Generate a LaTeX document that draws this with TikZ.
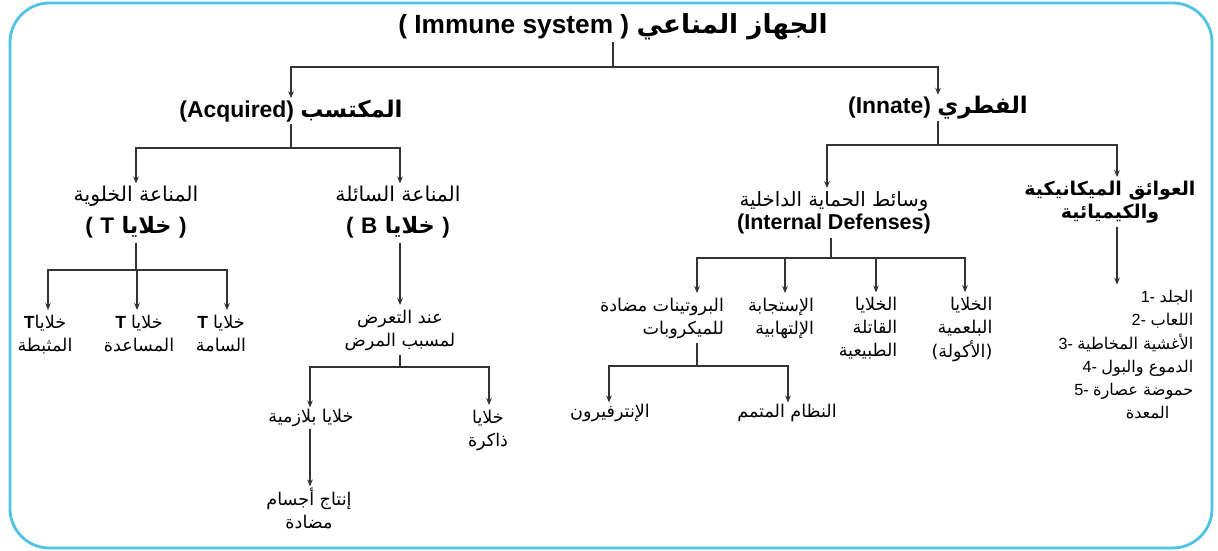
\documentclass[tikz,border=0pt]{standalone}
\usepackage{fontspec}
\setmainfont{Liberation Sans}
\newfontfamily\arabicfont[Script=Arabic]{DejaVu Sans}
\TeXXeTstate=1
\usetikzlibrary{arrows.meta}
\newcommand{\artxt}[1]{{\arabicfont\beginR #1\endR}}
\newcommand{\rows}[2][c]{\begin{tabular}{@{}#1@{}}#2\end{tabular}}
\definecolor{framecol}{HTML}{4EC3E4}
\definecolor{linecol}{HTML}{333333}

\begin{document}
\begin{tikzpicture}[x=0.025cm,y=-0.025cm,
    arr/.style={-{Stealth[length=5pt,width=4pt]},draw=linecol,line width=1pt},
    top node/.style={font=\bfseries\fontsize{18.7}{22}\selectfont,inner sep=1pt},
    head node/.style={font=\bfseries\fontsize{16.3}{20}\selectfont,inner sep=1pt},
    bold node/.style={font=\bfseries\fontsize{13.5}{16.5}\selectfont,inner sep=1pt},
    cell node/.style={font=\fontsize{12.5}{16.5}\selectfont,inner sep=1pt}]

  \useasboundingbox (0,0) rectangle (1218,551);
  \draw[framecol,line width=2pt,rounded corners=28] (10,3) rectangle (1212,548);

  % main levels
  \node[top node]  (imm) at (613,27) {( Immune system ) \artxt{الجهاز المناعي}};
  \node[head node] (acq) at (291,111) {(Acquired) \artxt{المكتسب}};
  \node[head node] (inn) at (938,108) {(Innate) \artxt{الفطري}};

  % acquired branch
  \node[cell node] (tcell) at (136,213) {\rows{{\fontsize{14.5}{18}\selectfont\artxt{المناعة الخلوية}}\\[6pt]
    {\bfseries\fontsize{16}{18}\selectfont (\,\,T\,\,\artxt{خلايا}\,\,)}}};
  \node[cell node] (bcell) at (398,213) {\rows{{\fontsize{14.5}{18}\selectfont\artxt{المناعة السائلة}}\\[6pt]
    {\bfseries\fontsize{16}{18}\selectfont (\,\,B\,\,\artxt{خلايا}\,\,)}}};
  \node[cell node] (tsup)  at (45,335)  {\rows{{\bfseries T}\artxt{خلايا}\\\artxt{المثبطة}}};
  \node[cell node] (thelp) at (139,335) {\rows{{\bfseries T} \artxt{خلايا}\\\artxt{المساعدة}}};
  \node[cell node] (ttox)  at (221,335) {\rows{{\bfseries T} \artxt{خلايا}\\\artxt{السامة}}};
  \node[cell node] (expo)  at (400,330) {\rows{\artxt{عند التعرض}\\\artxt{لمسبب المرض}}};
  \node[cell node] (plas)  at (311,418) {\artxt{خلايا بلازمية}};
  \node[cell node] (mem)   at (488,430) {\rows{\artxt{خلايا}\\\artxt{ذاكرة}}};
  \node[cell node] (anti)  at (309,512) {\rows{\artxt{إنتاج أجسام}\\\artxt{مضادة}}};

  % innate branch
  \node[cell node,font=\fontsize{14}{16.5}\selectfont] (intd) at (834,213)
    {\rows{\artxt{وسائط الحماية الداخلية}\\{\bfseries\fontsize{15.3}{17}\selectfont(Internal Defenses)}}};
  \node[bold node] (barr) at (1110,202) {\rows{\artxt{العوائق الميكانيكية}\\\artxt{والكيميائية}}};
  \node[cell node] (prot) at (662,318) {\rows[r]{\artxt{البروتينات مضادة}\\\artxt{للميكروبات}}};
  \node[cell node] (infl) at (781,318) {\rows[r]{\artxt{الإستجابة}\\\artxt{الإلتهابية}}};
  \node[cell node] (nkc)  at (868,329) {\rows[r]{\artxt{الخلايا}\\\artxt{القاتلة}\\\artxt{الطبيعية}}};
  \node[cell node] (phag) at (962,329) {\rows[r]{\artxt{الخلايا}\\\artxt{البلعمية}\\\artxt{(الأكولة)}}};
  \node[cell node] (intf)  at (610,413) {\artxt{الإنترفيرون}};
  \node[cell node] (comp)  at (787,413) {\artxt{النظام المتمم}};
  \node[cell node,font=\fontsize{11.5}{16.5}\selectfont,anchor=east] (list) at (1195,356)
    {\rows[r]{1- \artxt{الجلد}\\2- \artxt{اللعاب}\\3- \artxt{الأغشية المخاطية}\\
     4- \artxt{الدموع والبول}\\5- \artxt{حموضة عصارة}\\\artxt{المعدة}\hspace*{0.6cm}}};

  % connectors
  \draw[arr] (imm.south) -- (imm.south |- 0,67) -| (acq.north);
  \draw[arr] (imm.south) -- (imm.south |- 0,67) -| (inn.north);

  \draw[arr] (acq.south) -- (acq.south |- 0,148) -| (tcell.north);
  \draw[arr] (acq.south) -- (acq.south |- 0,148) -| (bcell.north -| 400,0);
  \draw[arr] (tcell.south) -- (tcell.south |- 0,270) -| (tsup.north -| 48,0);
  \draw[arr] (tcell.south) -- (tcell.south |- 0,270) -| (thelp.north -| 137,0);
  \draw[arr] (tcell.south) -- (tcell.south |- 0,270) -| (ttox.north -| 227,0);
  \draw[arr] (bcell.south -| 400,0) -- (expo.north);
  \draw[arr] (expo.south) -- (expo.south |- 0,367) -| (plas.north -| 310,0);
  \draw[arr] (expo.south) -- (expo.south |- 0,367) -| (mem.north -| 489,0);
  \draw[arr] (plas.south -| 310,0) -- (anti.north -| 310,0);

  \draw[arr] (inn.south) -- (inn.south |- 0,145) -| (intd.north -| 827,0);
  \draw[arr] (inn.south) -- (inn.south |- 0,145) -| (barr.north -| 1117,0);
  \draw[arr] (intd.south -| 831,0) -- (831,258) -| (prot.north -| 697,0);
  \draw[arr] (intd.south -| 831,0) -- (831,258) -| (infl.north -| 785,0);
  \draw[arr] (intd.south -| 831,0) -- (831,258) -| (nkc.north -| 876,0);
  \draw[arr] (intd.south -| 831,0) -- (831,258) -| (phag.north -| 965,0);
  \draw[arr] (prot.south -| 697,0) -- (697,366) -| (intf.north -| 609,0);
  \draw[arr] (prot.south -| 697,0) -- (697,366) -| (comp.north -| 788,0);
  \draw[arr] (barr.south -| 1117,0) -- (list.north -| 1117,0);

\end{tikzpicture}
\end{document}
